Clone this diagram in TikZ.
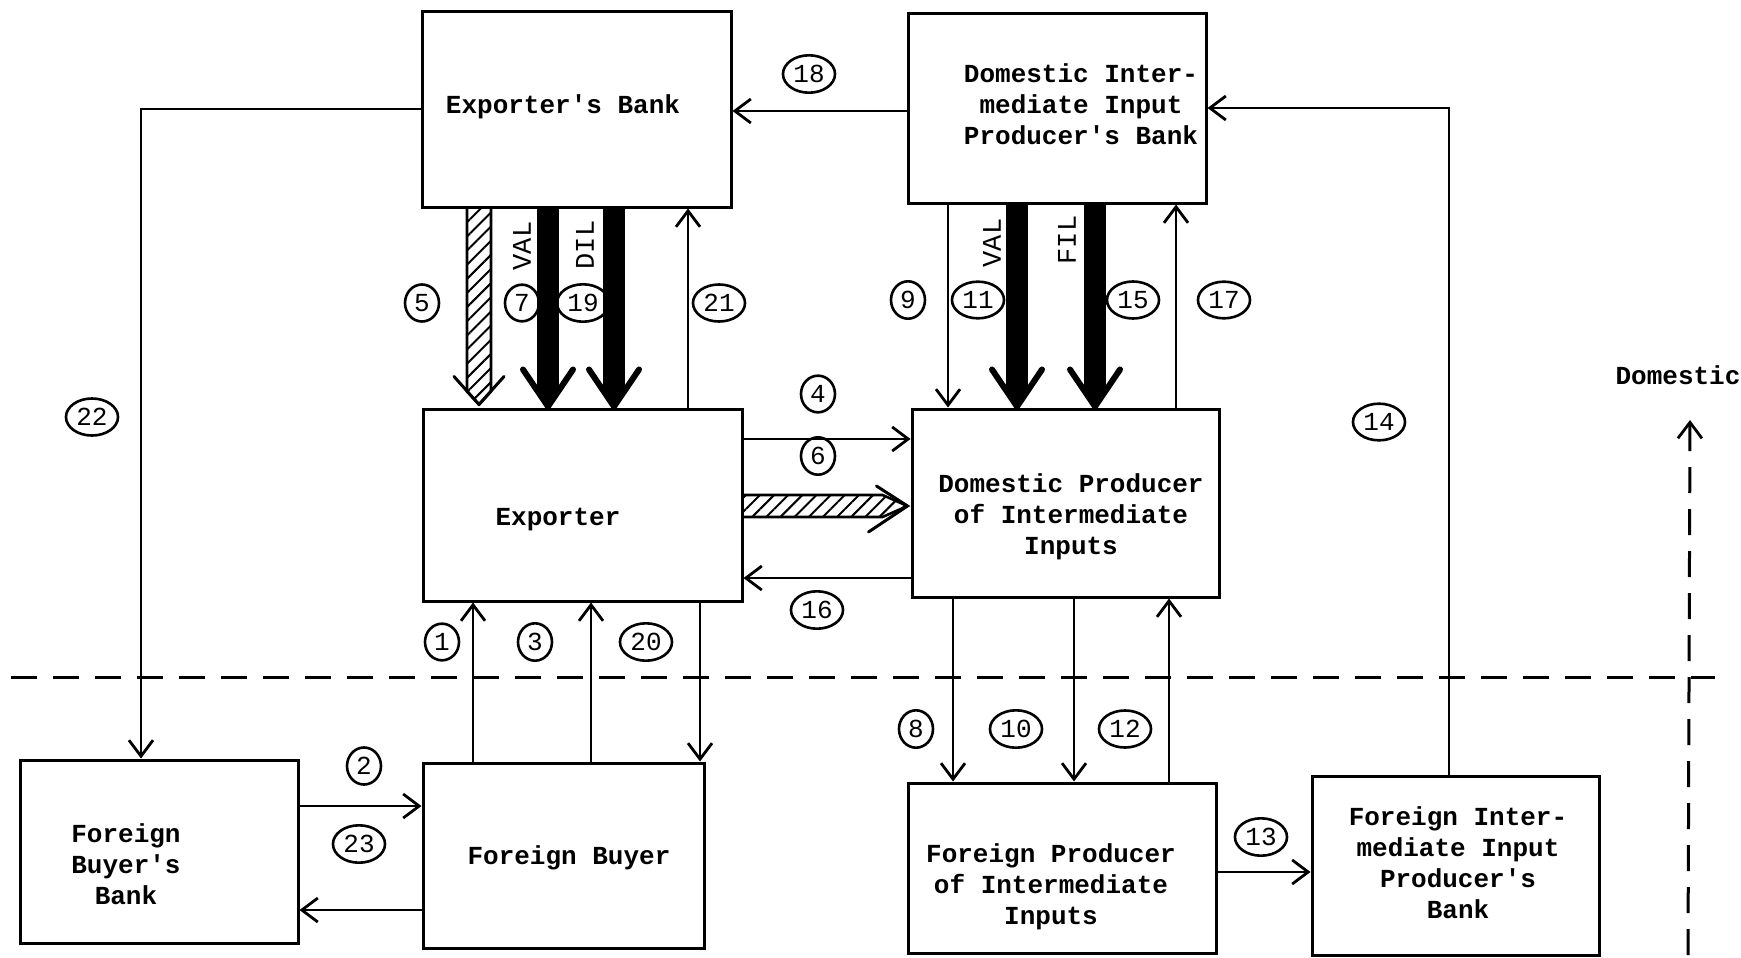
\documentclass[tikz,border=0pt]{standalone}
\usepackage{fontspec}
\newfontfamily\tw{Liberation Mono}
\usetikzlibrary{arrows.meta,calc,shapes.geometric,patterns.meta}
\newcommand\fatarr[3]{%
  \draw[line width=11pt] (#1 |- #2.south) -- ($(#1 |- #3.north)+(0,-14)$);
  \fill ($(#1 |- #3.north)+(-11,-15)$) -- ($(#1 |- #3.north)+(0,-1)$) -- ($(#1 |- #3.north)+(11,-15)$) -- cycle;
  \draw[line width=3pt,line join=round,line cap=round] ($(#1 |- #3.north)+(-25,-38)$) -- ($(#1 |- #3.north)+(0,-1)$) -- ($(#1 |- #3.north)+(25,-38)$);}
\begin{document}
\begin{tikzpicture}[x=0.5pt,y=-0.5pt,
  box/.style={draw,line width=1.5pt,inner sep=0pt},
  btxt/.style={font=\tw\bfseries\fontsize{13pt}{15.5pt}\selectfont,align=center,inner sep=0pt},
  num/.style={draw,ellipse,line width=1.3pt,inner xsep=1.4pt,inner ysep=2.2pt,minimum width=17pt,minimum height=15.5pt,font=\tw\fontsize{13pt}{15pt}\selectfont},
  arr/.style={line width=1.4pt,-{Straight Barb[length=8pt,width=12pt,line width=1.4pt]}},
  rot/.style={font=\tw\fontsize{13.5pt}{15pt}\selectfont,rotate=90,inner sep=0pt},
  dline/.style={line width=1.5pt,dash pattern=on 13pt off 8pt},
  hatch/.style={pattern={Lines[angle=45,distance=5pt,line width=1pt]},line width=1.3pt},
  barb/.style={line width=1.5pt,line join=round,line cap=round}
]
\useasboundingbox (0,0) rectangle (1741,958);

% boxes
\node[box,minimum width=154.5pt,minimum height=98pt] (EB) at (576.5,109) {};
\node[box,minimum width=149pt,minimum height=95pt] (DB) at (1057,108) {};
\node[box,minimum width=159.5pt,minimum height=96pt] (EX) at (582.5,505) {};
\node[box,minimum width=153.5pt,minimum height=94pt] (DP) at (1065.5,503) {};
\node[box,minimum width=139pt,minimum height=91.5pt] (FBB) at (159,851.5) {};
\node[box,minimum width=140.5pt,minimum height=92.5pt] (FB) at (563.5,855.5) {};
\node[box,minimum width=154pt,minimum height=85pt] (FP) at (1062,868) {};
\node[box,minimum width=143.5pt,minimum height=89.5pt] (FIB) at (1455.5,865.5) {};

% box texts
\node[btxt] (EBt) at (563,107) {Exporter's Bank};
\node[btxt] (DBt) at (1081,104) {Domestic Inter-\\mediate Input\\Producer's Bank};
\node[btxt] (EXt) at (558,520) {Exporter};
\node[btxt] (DPt) at (1071,517) {Domestic Producer\\of Intermediate\\Inputs};
\node[btxt] (FBBt) at (126,864) {Foreign\\Buyer's\\Bank};
\node[btxt] (FBt) at (569,858) {Foreign Buyer};
\node[btxt] (FPt) at (1051,887) {Foreign Producer\\of Intermediate\\Inputs};
\node[btxt] (FIBt) at (1458,863) {Foreign Inter-\\mediate Input\\Producer's\\Bank};
\node[btxt] (Dom) at (1678,375) {Domestic};

% x / y reference coordinates
\coordinate (x22) at (141,0);
\coordinate (x14) at (1449,0);
\coordinate (y18) at (0,111);
\coordinate (x5) at (479,0);
\coordinate (x7) at (548,0);
\coordinate (x19) at (614,0);
\coordinate (x21) at (688,0);
\coordinate (x9) at (948,0);
\coordinate (x11) at (1017,0);
\coordinate (x15) at (1095,0);
\coordinate (x17) at (1176,0);
\coordinate (y4) at (0,439);
\coordinate (y6) at (0,506);
\coordinate (y16) at (0,578);
\coordinate (x1) at (473,0);
\coordinate (x3) at (591,0);
\coordinate (x20) at (700,0);
\coordinate (x8) at (953,0);
\coordinate (x10) at (1074,0);
\coordinate (x12) at (1169,0);
\coordinate (y13) at (0,872);
\coordinate (y2) at (0,806);
\coordinate (y23) at (0,910);

% thin arrows
\draw[arr] (EB.west) -| (x22 |- FBB.north);
\draw[arr] (x14 |- FIB.north) |- (DB.east);
\draw[arr] (DB.west |- y18) -- (EB.east |- y18);
\draw[arr] (x21 |- EX.north) -- (x21 |- EB.south);
\draw[arr] (x9 |- DB.south) -- (x9 |- DP.north);
\draw[arr] (x17 |- DP.north) -- (x17 |- DB.south);
\draw[arr] (EX.east |- y4) -- (DP.west |- y4);
\draw[arr] (DP.west |- y16) -- (EX.east |- y16);
\draw[arr] (x1 |- FB.north) -- (x1 |- EX.south);
\draw[arr] (x3 |- FB.north) -- (x3 |- EX.south);
\draw[arr] (x20 |- EX.south) -- (x20 |- FB.north);
\draw[arr] (x8 |- DP.south) -- (x8 |- FP.north);
\draw[arr] (x10 |- DP.south) -- (x10 |- FP.north);
\draw[arr] (x12 |- FP.north) -- (x12 |- DP.south);
\draw[arr] (FP.east |- y13) -- (FIB.west |- y13);
\draw[arr] (FBB.east |- y2) -- (FB.west |- y2);
\draw[arr] (FB.west |- y23) -- (FBB.east |- y23);

% thick arrows
\fatarr{x7}{EB}{EX}
\fatarr{x19}{EB}{EX}
\fatarr{x11}{DB}{DP}
\fatarr{x15}{DB}{DP}

% hatched arrow 5
\draw[hatch] ($(x5 |- EB.south)+(-12,0)$) -- ($(x5 |- EX.north)+(-12,-16)$) -- ($(x5 |- EX.north)+(0,-3)$) -- ($(x5 |- EX.north)+(12,-16)$) -- ($(x5 |- EB.south)+(12,0)$);
\draw[barb] ($(x5 |- EX.north)+(-25,-31)$) -- ($(x5 |- EX.north)+(0,-3)$) -- ($(x5 |- EX.north)+(25,-31)$);

% hatched arrow 6
\draw[hatch] ($(EX.east |- y6)+(0,-11)$) -- ($(DP.west |- y6)+(-28,-11)$) -- ($(DP.west |- y6)+(-3,0)$) -- ($(DP.west |- y6)+(-28,11)$) -- ($(EX.east |- y6)+(0,11)$);
\draw[barb] ($(DP.west |- y6)+(-34,-20)$) -- ($(DP.west |- y6)+(-3,0)$) -- ($(DP.west |- y6)+(-42,26)$);

% rotated labels
\node[rot] (VAL1) at (522,246) {VAL};
\node[rot] (DIL) at (585,245) {DIL};
\node[rot] (VAL2) at (992,243) {VAL};
\node[rot] (FIL) at (1067,240) {FIL};

% number labels
\node[num] (n1) at (442,642) {1};
\node[num] (n2) at (364,766) {2};
\node[num] (n3) at (535,642) {3};
\node[num] (n4) at (818,394) {4};
\node[num] (n5) at (422,303) {5};
\node[num] (n6) at (818,456) {6};
\node[num] (n7) at (522,303) {7};
\node[num] (n8) at (916,729) {8};
\node[num] (n9) at (908,300) {9};
\node[num] (n10) at (1016,729) {10};
\node[num] (n11) at (978,300) {11};
\node[num] (n12) at (1125,729) {12};
\node[num] (n13) at (1261,837) {13};
\node[num] (n14) at (1379,422) {14};
\node[num] (n15) at (1133,300) {15};
\node[num] (n16) at (817,610) {16};
\node[num] (n17) at (1224,300) {17};
\node[num] (n18) at (809,74) {18};
\node[num] (n19) at (583,303) {19};
\node[num] (n20) at (646,642) {20};
\node[num] (n21) at (719,303) {21};
\node[num] (n22) at (92,417) {22};
\node[num] (n23) at (359,844) {23};

% dashed border lines
\coordinate (hl) at (11,677);
\coordinate (hr) at (1715,677);
\draw[dline] (hl) -- (hr);
\coordinate (vb) at (1688,955);
\coordinate (vt) at (1690,420);
\draw[dline,-{Straight Barb[length=8pt,width=12pt,line width=1.4pt]}] (vb) -- (vt);
\end{tikzpicture}
\end{document}
